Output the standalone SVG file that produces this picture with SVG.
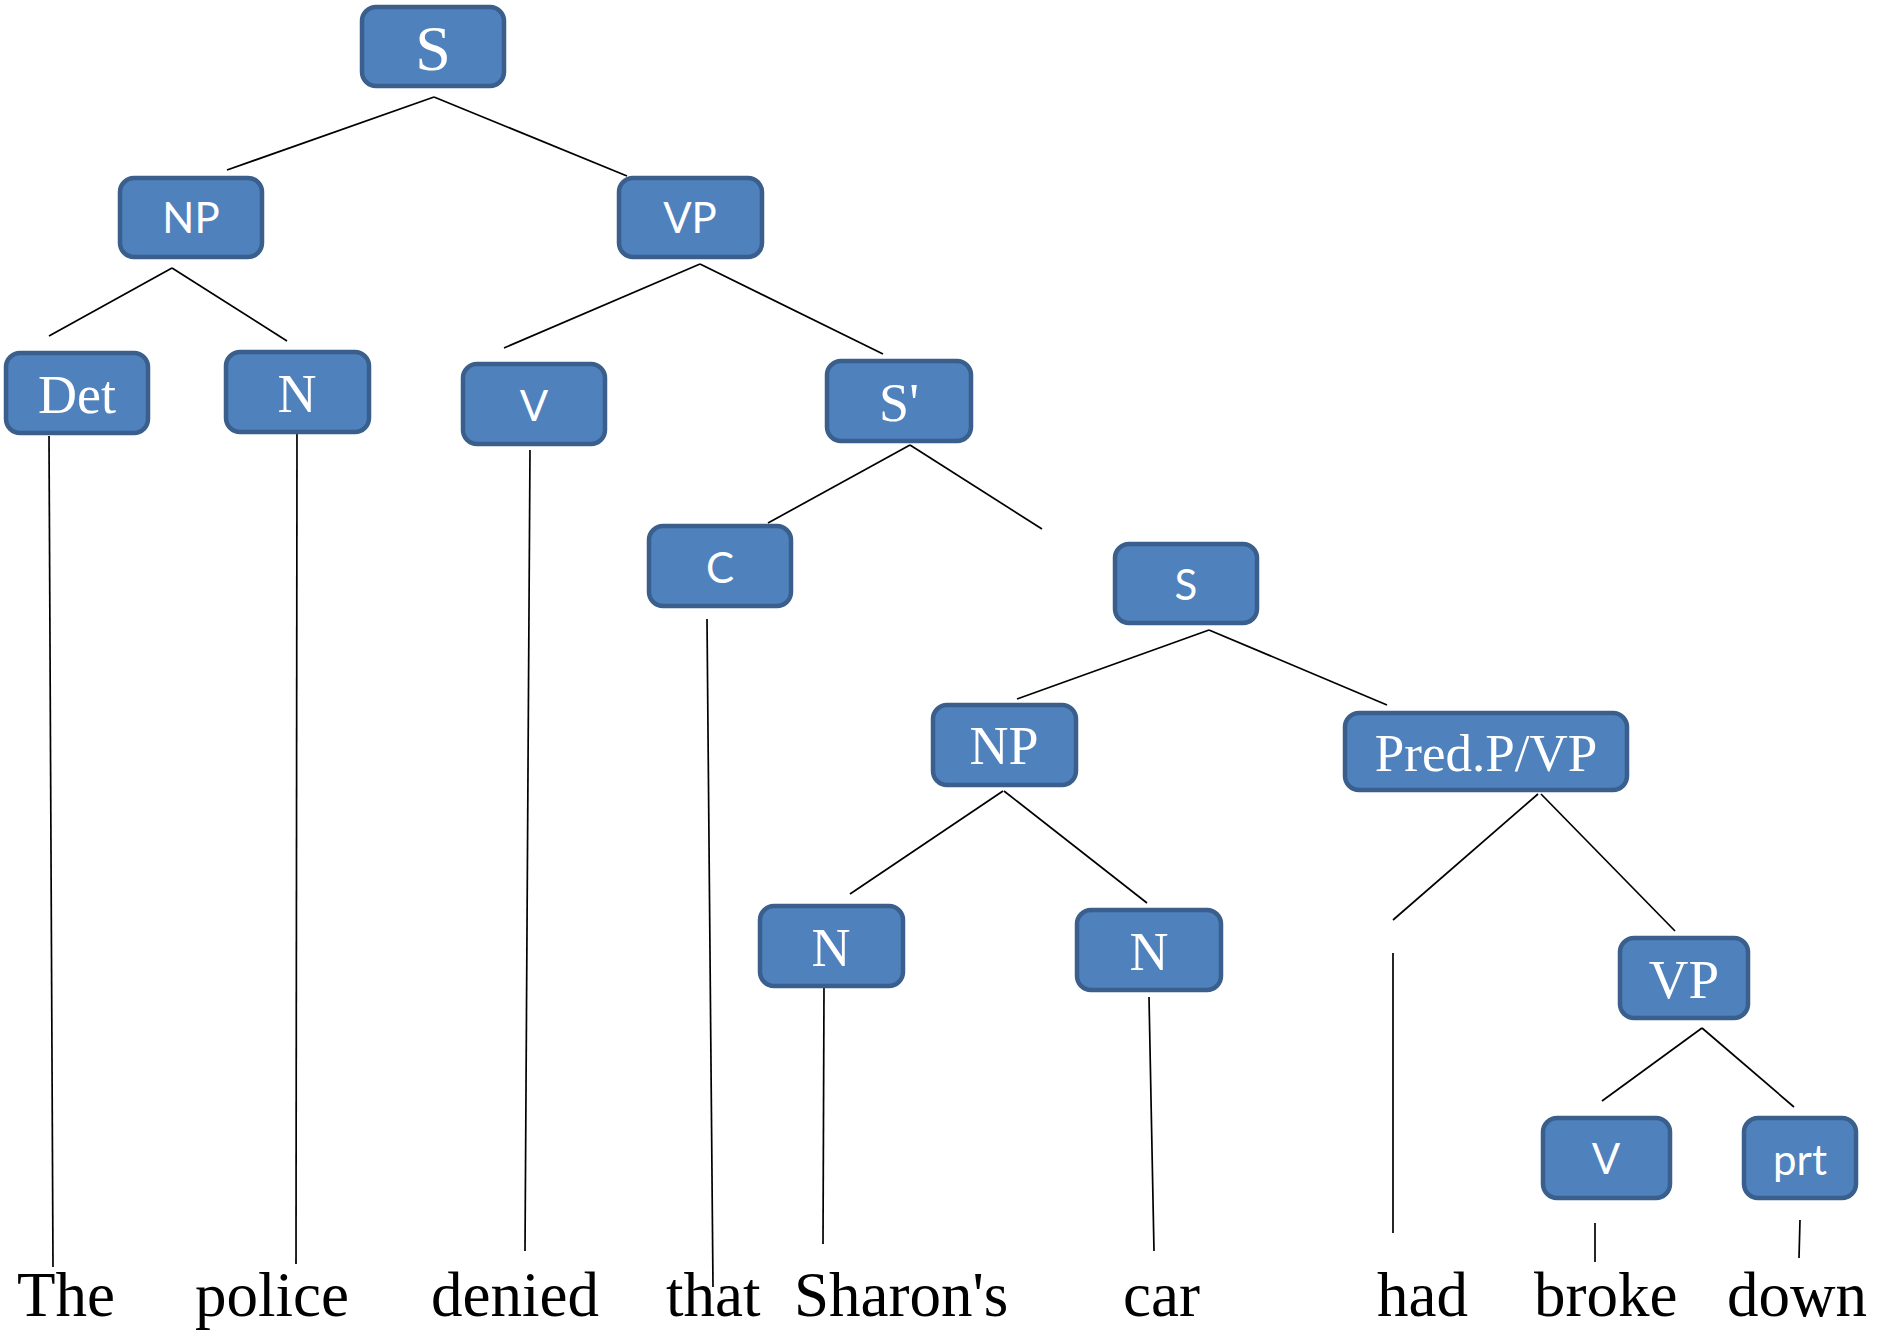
<svg xmlns="http://www.w3.org/2000/svg" width="1878" height="1332" viewBox="0 0 1878 1332">
<style>
.box{fill:#4F81BD;stroke:#3A5F8C;stroke-width:4.5}
.ser{font-family:"Liberation Serif","Times New Roman",serif;fill:#ffffff;text-anchor:middle}
.san{font-family:Lato,"Liberation Sans",sans-serif;fill:#ffffff;text-anchor:middle;font-size:42px}
.word{font-family:"Liberation Serif","Times New Roman",serif;fill:#000000;font-size:63px}
.conn line{stroke:#000000;stroke-width:1.7}
</style>
<rect width="1878" height="1332" fill="#ffffff"/>
<g id="connectors" class="conn">
<line x1="434" y1="97" x2="227" y2="170"/>
<line x1="434" y1="97" x2="627" y2="176"/>
<line x1="172" y1="268" x2="49" y2="336"/>
<line x1="172" y1="268" x2="287" y2="341"/>
<line x1="700" y1="264" x2="504" y2="348"/>
<line x1="700" y1="264" x2="883" y2="354"/>
<line x1="910" y1="445" x2="768" y2="523"/>
<line x1="910" y1="445" x2="1042" y2="529"/>
<line x1="1209" y1="630" x2="1017" y2="699"/>
<line x1="1209" y1="630" x2="1387" y2="705"/>
<line x1="1003" y1="791" x2="850" y2="894"/>
<line x1="1004" y1="791" x2="1147" y2="903"/>
<line x1="1538" y1="794" x2="1393" y2="920"/>
<line x1="1541" y1="794" x2="1675" y2="931"/>
<line x1="1702" y1="1028" x2="1602" y2="1101"/>
<line x1="1702" y1="1028" x2="1794" y2="1107"/>
<line x1="49" y1="436" x2="53" y2="1267"/>
<line x1="297" y1="428" x2="296" y2="1264"/>
<line x1="530" y1="450" x2="525" y2="1251"/>
<line x1="707" y1="619" x2="713" y2="1287"/>
<line x1="824" y1="987" x2="823" y2="1244"/>
<line x1="1149" y1="997" x2="1154" y2="1251"/>
<line x1="1393" y1="953" x2="1393" y2="1233"/>
<line x1="1595" y1="1223" x2="1595" y2="1262"/>
<line x1="1800" y1="1220" x2="1799" y2="1258"/>
</g>
<g id="node-S"><rect class="box" x="362" y="7" width="142" height="79" rx="14"/><text class="ser" x="433" y="70" font-size="64">S</text></g>
<g id="node-NP"><rect class="box" x="120" y="178" width="142" height="79" rx="14"/><text class="san" x="191" y="233">NP</text></g>
<g id="node-VP"><rect class="box" x="619" y="178" width="143" height="79" rx="14"/><text class="san" x="690" y="233">VP</text></g>
<g id="node-Det"><rect class="box" x="6" y="353" width="142" height="80" rx="14"/><text class="ser" x="77" y="413" font-size="54">Det</text></g>
<g id="node-N1"><rect class="box" x="226" y="352" width="143" height="80" rx="14"/><text class="ser" x="297" y="412" font-size="54">N</text></g>
<g id="node-V1"><rect class="box" x="463" y="364" width="142" height="80" rx="14"/><text class="san" x="534" y="421">V</text></g>
<g id="node-Sbar"><rect class="box" x="827" y="361" width="144" height="80" rx="14"/><text class="ser" x="899" y="421" font-size="54">S'</text></g>
<g id="node-C"><rect class="box" x="649" y="526" width="142" height="80" rx="14"/><text class="san" x="720" y="583">C</text></g>
<g id="node-S2"><rect class="box" x="1115" y="544" width="142" height="79" rx="14"/><text class="san" x="1186" y="600">S</text></g>
<g id="node-NP2"><rect class="box" x="933" y="705" width="143" height="80" rx="14"/><text class="ser" x="1004" y="764" font-size="54">NP</text></g>
<g id="node-Pred"><rect class="box" x="1345" y="713" width="282" height="77" rx="14"/><text class="ser" x="1486" y="771" font-size="53">Pred.P/VP</text></g>
<g id="node-N2"><rect class="box" x="760" y="906" width="143" height="80" rx="14"/><text class="ser" x="831" y="966" font-size="54">N</text></g>
<g id="node-N3"><rect class="box" x="1077" y="910" width="144" height="80" rx="14"/><text class="ser" x="1149" y="970" font-size="54">N</text></g>
<g id="node-VP2"><rect class="box" x="1620" y="938" width="128" height="80" rx="14"/><text class="ser" x="1684" y="998" font-size="55">VP</text></g>
<g id="node-V2"><rect class="box" x="1543" y="1118" width="127" height="80" rx="14"/><text class="san" x="1606" y="1174">V</text></g>
<g id="node-prt"><rect class="box" x="1744" y="1118" width="112" height="80" rx="14"/><text class="san" x="1800" y="1175">prt</text></g>
<g id="words">
<text class="word" x="17" y="1316">The</text>
<text class="word" x="195" y="1316">police</text>
<text class="word" x="431" y="1316">denied</text>
<text class="word" x="666" y="1316">that</text>
<text class="word" x="794" y="1316">Sharon's</text>
<text class="word" x="1123" y="1316">car</text>
<text class="word" x="1377" y="1316">had</text>
<text class="word" x="1534" y="1316">broke</text>
<text class="word" x="1727" y="1316">down</text>
</g>
</svg>
